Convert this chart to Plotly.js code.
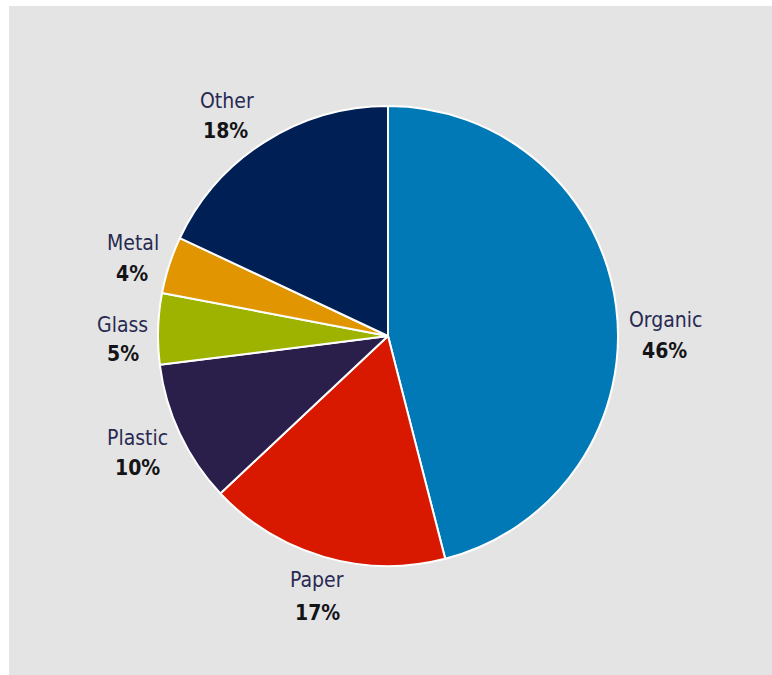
<!DOCTYPE html>
<html>
<head>
<meta charset="utf-8">
<script src="https://cdn.plot.ly/plotly-3.0.1.min.js"></script>
<style>
html,body{margin:0;padding:0;background:#ffffff;}
#chart{position:absolute;left:9px;top:6px;width:763px;height:669px;}
</style>
</head>
<body>
<div id="chart"></div>
<script>
const categories = ["Organic", "Paper", "Plastic", "Glass", "Metal", "Other"];
const shares = [46, 17, 10, 5, 4, 18];
const sliceColors = ["#0079b6", "#d81900", "#2a1f4b", "#9db300", "#e19500", "#001f55"];

// label anchor positions (page pixels) for name line and percent line
const nameAt = [[665, 320], [317, 580], [137, 438], [122, 325], [133, 243], [227, 101]];
const pctAt  = [[664, 351], [317, 613], [137, 468], [123, 354], [132, 274], [225, 131]];

const W = 763, H = 669, OX = 9, OY = 6;
const M = {l: 149, r: 154, t: 100, b: 109};
const PW = W - M.l - M.r, PH = H - M.t - M.b;
function px(x) { return (x - OX - M.l) / PW; }
function py(y) { return 1 - (y - OY - M.t) / PH; }

const fontFam = "DejaVu Sans Condensed, Liberation Sans Narrow, sans-serif";
const total = shares.reduce((a, b) => a + b, 0);
const annotations = [];
categories.forEach((c, i) => {
  annotations.push({
    xref: "paper", yref: "paper", x: px(nameAt[i][0]), y: py(nameAt[i][1]),
    xanchor: "center", yanchor: "middle", showarrow: false,
    text: c, font: {family: fontFam, size: 21, color: "#282a52"}
  });
  annotations.push({
    xref: "paper", yref: "paper", x: px(pctAt[i][0]), y: py(pctAt[i][1]),
    xanchor: "center", yanchor: "middle", showarrow: false,
    text: "<b>" + Math.round(shares[i] / total * 100) + "%</b>",
    font: {family: fontFam, size: 21, color: "#141418"}
  });
});

const trace = {
  type: "pie",
  labels: categories,
  values: shares,
  sort: false,
  direction: "clockwise",
  rotation: 0,
  marker: {colors: sliceColors, line: {color: "#ffffff", width: 2}},
  textinfo: "none",
  hoverinfo: "label+percent",
  showlegend: false
};

const layout = {
  width: W,
  height: H,
  paper_bgcolor: "#e4e4e4",
  plot_bgcolor: "#e4e4e4",
  margin: M,
  showlegend: false,
  annotations: annotations
};

Plotly.newPlot("chart", [trace], layout, {displayModeBar: false, staticPlot: true});
</script>
</body>
</html>
